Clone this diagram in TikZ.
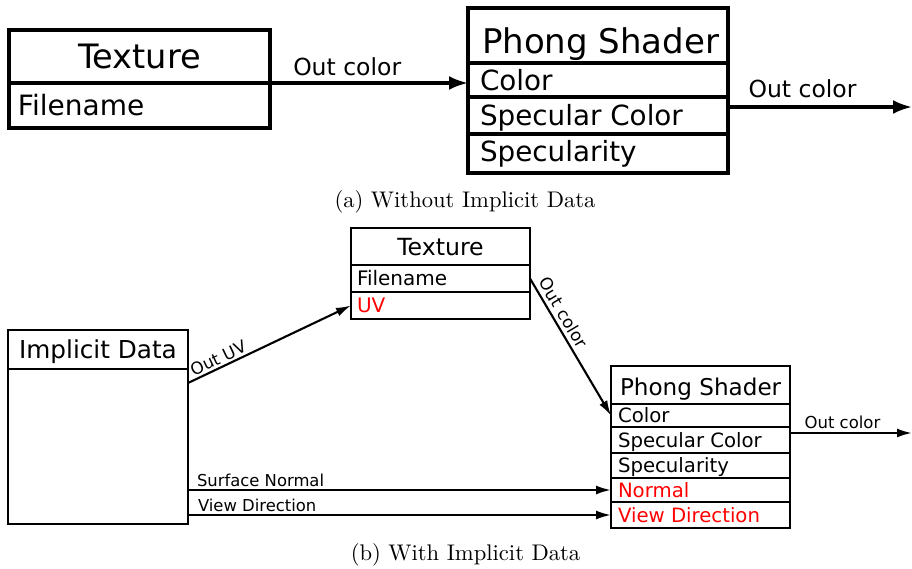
\documentclass[tikz,border=0pt]{standalone}
\usepackage{fontspec}
\usetikzlibrary{arrows.meta,positioning}
\newfontfamily\boxfont{DejaVu Sans}
\newcommand{\fs}[1]{\fontsize{#1}{#1}\selectfont}

\tikzset{
  % one row of a box; the argument is the font size in pt
  row/.style={draw, outer sep=0pt, anchor=north west, inner xsep=0pt, inner ysep=0pt,
    font=\boxfont\fs{#1}, text height=0.73*#1pt, text depth=0pt},
  big/.style={line width=3.2pt},
  small/.style={line width=2.1pt},
  bigarrow/.style={big, -{Latex[length=19pt,width=14pt]}},
  smallarrow/.style={small, -{Latex[length=15pt,width=9pt]}},
  caption/.style={font=\normalsize, anchor=base, scale=2.26, transform shape},
}

\begin{document}
\begin{tikzpicture}[x=1pt,y=-1pt]
  \useasboundingbox (0,0) rectangle (912,569);

  % (a) without implicit data
  \node[row=33.6, big, minimum width=261pt, minimum height=53pt] (texA-title) at (9,30) {\hbox to 261pt{\hfil Texture\hfil}};
  \node[row=28, big, minimum width=261pt, minimum height=45pt] (texA-file) at (9,83) {\hbox to 261pt{\hskip9pt Filename\hfil}};

  \node[row=34, big, minimum width=260pt, minimum height=55pt, text height=37pt] (phA-title) at (468,8) {\hbox to 260pt{\hskip14pt Phong Shader\hfil}};
  \node[row=27.8, big, minimum width=260pt, minimum height=34pt] (phA-color) at (468,63) {\hbox to 260pt{\hskip12pt Color\hfil}};
  \node[row=27.8, big, minimum width=260pt, minimum height=37pt] (phA-spec) at (468,97) {\hbox to 260pt{\hskip12pt Specular Color\hfil}};
  \node[row=27.8, big, minimum width=260pt, minimum height=39pt, text height=17pt] (phA-specty) at (468,134) {\hbox to 260pt{\hskip12pt Specularity\hfil}};

  \coordinate (outA) at (912,107);
  \draw[bigarrow] (texA-title.south east) -- (texA-title.south east -| phA-color.west)
    node[pos=0.39, above=6pt, inner sep=0pt, font=\boxfont\fs{23.5}] {Out color};
  \draw[bigarrow] (outA -| phA-spec.east) -- (outA)
    node[pos=0.405, above=8pt, inner sep=0pt, font=\boxfont\fs{23.5}] {Out color};

  \node[caption] (capA) at (465,208) {(a) Without Implicit Data};

  % (b) with implicit data
  \node[row=24.7, small, minimum width=180pt, minimum height=39pt] (impB-title) at (8,330) {\hbox to 180pt{\hfil Implicit Data\hfil}};
  \node[row=10, small, minimum width=180pt, minimum height=155pt] (impB-body) at (8,369) {};

  \node[row=23.6, small, minimum width=179pt, minimum height=37pt] (texB-title) at (351,228) {\hbox to 179pt{\hfil Texture\hfil}};
  \node[row=20, small, minimum width=179pt, minimum height=27pt] (texB-file) at (351,265) {\hbox to 179pt{\hskip6pt Filename\hfil}};
  \node[row=20, small, minimum width=179pt, minimum height=27pt, text=red] (texB-uv) at (351,292) {\hbox to 179pt{\hskip6pt UV\hfil}};

  \node[row=23.1, small, minimum width=179pt, minimum height=38pt, text height=21pt] (phB-title) at (611,366) {\hbox to 179pt{\hskip9pt Phong Shader\hfil}};
  \node[row=19.7, small, minimum width=179pt, minimum height=23pt] (phB-color) at (611,404) {\hbox to 179pt{\hskip7pt Color\hfil}};
  \node[row=19.7, small, minimum width=179pt, minimum height=26pt] (phB-spec) at (611,427) {\hbox to 179pt{\hskip7pt Specular Color\hfil}};
  \node[row=19.7, small, minimum width=179pt, minimum height=25pt] (phB-specty) at (611,453) {\hbox to 179pt{\hskip7pt Specularity\hfil}};
  \node[row=19.7, small, minimum width=179pt, minimum height=24pt, text=red] (phB-normal) at (611,478) {\hbox to 179pt{\hskip7pt Normal\hfil}};
  \node[row=19.7, small, minimum width=179pt, minimum height=26pt, text=red] (phB-view) at (611,502) {\hbox to 179pt{\hskip7pt View Direction\hfil}};

  \coordinate (outB) at (912,433);
  \draw[smallarrow] ([yshift=-14pt]impB-body.north east) -- (texB-uv.west)
    node[pos=0.21, above=2pt, sloped, inner sep=0pt, font=\boxfont\fs{16.8}] {Out UV};
  \draw[smallarrow] (texB-file.east) -- (phB-color.west)
    node[pos=0.29, above=4pt, sloped, inner sep=0pt, font=\boxfont\fs{17}] {Out color};
  \draw[smallarrow] (phB-normal.west -| impB-body.east) -- (phB-normal.west)
    node[pos=0, anchor=base west, xshift=8pt, yshift=4pt, inner sep=0pt, font=\boxfont\fs{16.4}] {Surface Normal};
  \draw[smallarrow] (phB-view.west -| impB-body.east) -- (phB-view.west)
    node[pos=0, anchor=base west, xshift=9pt, yshift=4pt, inner sep=0pt, font=\boxfont\fs{16.4}] {View Direction};
  \draw[smallarrow] (outB -| phB-spec.east) -- (outB)
    node[pos=0.43, above=3pt, inner sep=0pt, font=\boxfont\fs{16.5}] {Out color};

  \node[caption] (capB) at (465.5,560) {(b) With Implicit Data};
\end{tikzpicture}
\end{document}
